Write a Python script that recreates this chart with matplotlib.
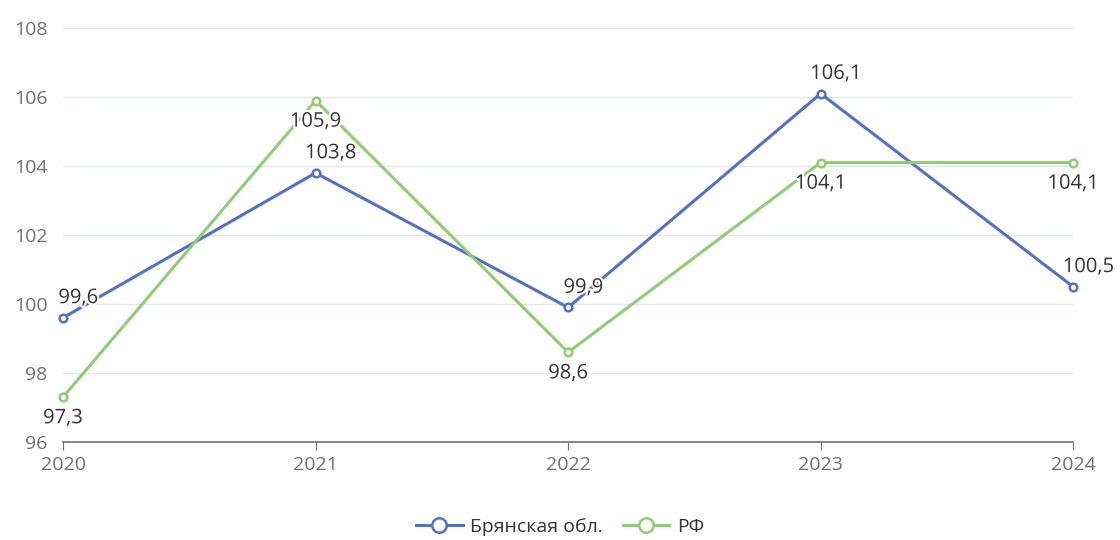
import matplotlib
matplotlib.use("Agg")
import matplotlib.pyplot as plt
import matplotlib.patheffects as pe

years = ["2020", "2021", "2022", "2023", "2024"]
bryansk = [99.6, 103.8, 99.9, 106.1, 100.5]
rf = [97.3, 105.9, 98.6, 104.1, 104.1]
labels_b = ["99,6", "103,8", "99,9", "106,1", "100,5"]
labels_r = ["97,3", "105,9", "98,6", "104,1", "104,1"]
yticks = [96, 98, 100, 102, 104, 106, 108]

plt.rcParams['font.family'] = ['Open Sans', 'DejaVu Sans']

fig = plt.figure(figsize=(11.2, 5.4), dpi=100)
ax = fig.add_axes([0.05625, 0.1815, 0.902, 0.7665])

blue = "#5470c6"
green = "#91cc75"
x = list(range(len(years)))

ax.plot(x, bryansk, color=blue, lw=2.2, marker="o", ms=5.5, mfc="white", mec=blue, mew=1.8, label="Брянская обл.", zorder=3)
ax.plot(x, rf, color=green, lw=2.2, marker="o", ms=5.5, mfc="white", mec=green, mew=1.8, label="РФ", zorder=3)

halo = [pe.withStroke(linewidth=3, foreground="white")]
for xi, v, t in zip(x, bryansk, labels_b):
    ax.annotate(t, (xi, v), xytext=(11, 7), textcoords="offset points", ha="center", va="bottom",
                fontsize=14.5, color="#333333", path_effects=halo, zorder=4)
for xi, v, t in zip(x, rf, labels_r):
    ax.annotate(t, (xi, v), xytext=(0, -8), textcoords="offset points", ha="center", va="top",
                fontsize=14.5, color="#333333", path_effects=halo, zorder=4)

ax.set_xlim(0, 4)
ax.set_ylim(96, 108)
ax.set_yticks(yticks)
ax.set_yticklabels([str(v) for v in yticks])
ax.set_xticks(x)
ax.set_xticklabels(years)
ax.grid(axis="y", color="#e0e6f1", lw=1)
ax.set_axisbelow(True)
for s in ["top", "right", "left"]:
    ax.spines[s].set_visible(False)
ax.spines["bottom"].set_color("#6e7079")
ax.spines["bottom"].set_linewidth(1.2)
ax.tick_params(axis="y", length=0, pad=11, labelsize=14, labelcolor="#6e7079")
ax.tick_params(axis="x", length=6, color="#6e7079", pad=4, labelsize=14, labelcolor="#6e7079")
for line in ax.lines:
    line.set_clip_on(False)

fig.legend(loc="lower center", bbox_to_anchor=(0.5, -0.025), ncol=2, frameon=False, fontsize=14,
           handlelength=2.4, columnspacing=1.0, handletextpad=0.4, labelcolor="#333333",
           markerscale=1.9)

fig.savefig("out.png", dpi=100)
